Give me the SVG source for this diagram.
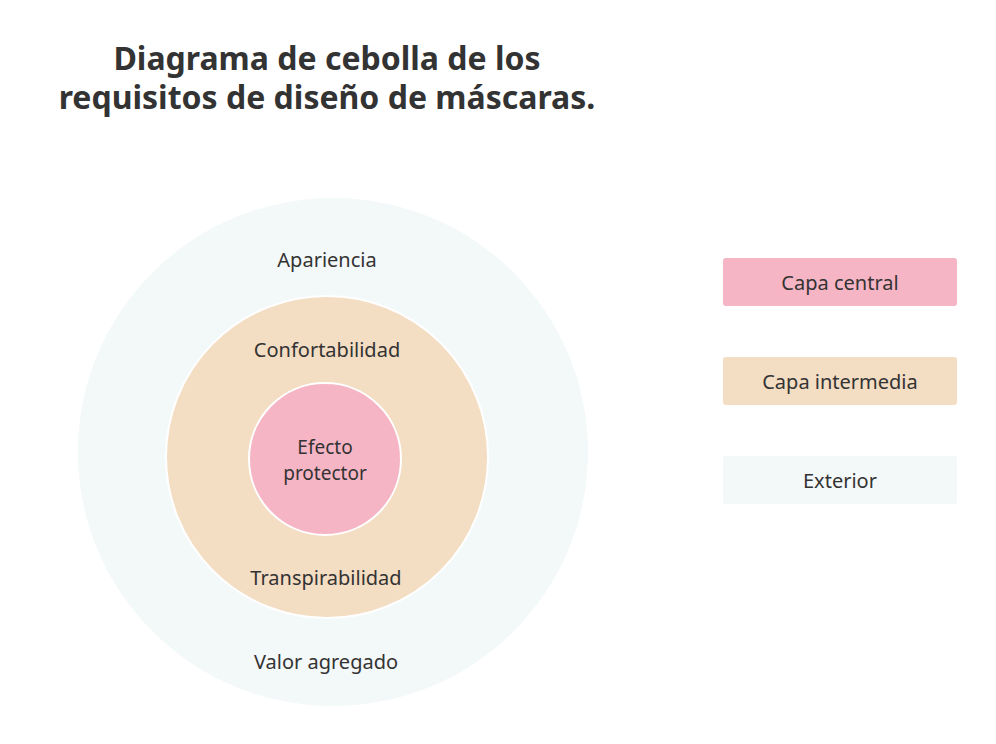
<svg xmlns="http://www.w3.org/2000/svg" width="996" height="744" viewBox="0 0 996 744">
<style>
text{font-family:"Segoe UI","Noto Sans","Open Sans",sans-serif;fill:#333;text-anchor:middle}
.t{font-size:32px;font-weight:bold}
.l{font-size:20px}
.s{font-size:19px}
.c{stroke:#fff;stroke-width:2}
</style>
<rect width="996" height="744" fill="#fff"/>
<g id="title"><text class="t" x="327" y="70">Diagrama de cebolla de los</text><text class="t" x="327" y="109">requisitos de diseño de máscaras.</text></g>
<g id="outer"><ellipse cx="333" cy="452" rx="255" ry="254" fill="#f3f8f8"/>
<text class="l" x="327" y="267">Apariencia</text><text class="l" x="326" y="669">Valor agregado</text></g>
<g id="middle"><circle class="c" cx="327" cy="457" r="161" fill="#f3ddc3"/>
<text class="l" x="327" y="357">Confortabilidad</text><text class="l" x="326" y="585">Transpirabilidad</text></g>
<g id="inner"><circle class="c" cx="325" cy="459" r="76" fill="#f6b5c4"/>
<text class="s" x="325" y="454">Efecto</text><text class="s" x="325" y="480">protector</text></g>
<g id="legend-central"><rect x="723" y="258" width="234" height="48" rx="3" fill="#f6b5c4"/><text class="l" x="840" y="290">Capa central</text></g>
<g id="legend-intermedia"><rect x="723" y="357" width="234" height="48" rx="3" fill="#f3ddc3"/><text class="l" x="840" y="389">Capa intermedia</text></g>
<g id="legend-exterior"><rect x="723" y="456" width="234" height="48" rx="3" fill="#f3f8f8"/><text class="l" x="840" y="488">Exterior</text></g>
<g id="connectors"/>
</svg>
